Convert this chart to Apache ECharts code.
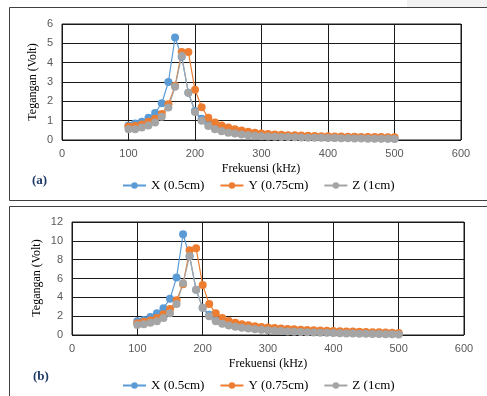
<!DOCTYPE html>
<html><head><meta charset="utf-8">
<script src="https://cdn.jsdelivr.net/npm/echarts@6/dist/echarts.min.js"></script>
<style>html,body{margin:0;padding:0;background:#fff}#c{width:487px;height:396px}</style>
</head><body><div id="c"></div>
<script>
var freq = [100,110,120,130,140,150,160,170,180,190,200,210,220,230,240,250,260,270,280,290,300,310,320,330,340,350,360,370,380,390,400,410,420,430,440,450,460,470,480,490,500];
var seriesNames = ['X (0.5cm)', 'Y (0.75cm)', 'Z (1cm)'];
var xTicks = [0,100,200,300,400,500,600];
var yTicksA = [0,1,2,3,4,5,6];
var yTicksB = [0,2,4,6,8,10,12];
// Panel (a)
var aX = [0.75,0.85,0.95,1.15,1.4,1.9,3.0,5.3,4.3,2.45,1.5,1.1,0.85,0.65,0.55,0.48,0.42,0.37,0.33,0.3,0.27,0.25,0.23,0.21,0.19,0.18,0.17,0.16,0.15,0.14,0.13,0.12,0.12,0.11,0.11,0.1,0.1,0.09,0.09,0.08,0.08];
var aY = [0.7,0.72,0.8,0.95,1.1,1.35,1.85,2.8,4.55,4.55,2.6,1.7,1.15,0.9,0.75,0.65,0.56,0.49,0.43,0.38,0.34,0.31,0.29,0.27,0.25,0.24,0.23,0.22,0.21,0.2,0.19,0.18,0.18,0.17,0.17,0.16,0.16,0.15,0.15,0.14,0.14];
var aZ = [0.55,0.55,0.65,0.75,0.9,1.2,1.68,2.75,4.35,2.45,1.45,1.0,0.72,0.55,0.45,0.38,0.33,0.29,0.25,0.22,0.2,0.18,0.17,0.16,0.15,0.14,0.13,0.12,0.12,0.11,0.1,0.1,0.09,0.09,0.08,0.08,0.07,0.07,0.06,0.06,0.05];
// Panel (b)
var bX = [1.45,1.6,1.9,2.3,2.85,3.85,6.1,10.7,8.35,4.8,2.9,2.15,1.6,1.3,1.1,0.95,0.85,0.75,0.68,0.62,0.56,0.52,0.48,0.44,0.41,0.38,0.35,0.33,0.31,0.29,0.27,0.25,0.24,0.22,0.21,0.2,0.18,0.17,0.16,0.15,0.14];
var bY = [1.25,1.4,1.55,1.8,2.2,2.75,3.7,5.4,9.0,9.2,5.3,3.3,2.3,1.8,1.5,1.3,1.15,1.03,0.93,0.85,0.8,0.74,0.69,0.64,0.6,0.56,0.53,0.5,0.47,0.44,0.42,0.4,0.38,0.36,0.34,0.32,0.3,0.28,0.26,0.24,0.22];
var bZ = [1.05,1.15,1.3,1.45,1.8,2.3,3.3,5.5,8.4,4.8,2.9,2.0,1.45,1.2,1.0,0.88,0.78,0.7,0.62,0.56,0.5,0.46,0.42,0.38,0.35,0.32,0.3,0.27,0.25,0.23,0.2,0.18,0.17,0.15,0.14,0.12,0.11,0.1,0.08,0.07,0.05];

var colors = ['#5B9BD5','#ED7D31','#A5A5A5'];
function pairs(vals){ return freq.map(function(f,i){ return [f, vals[i]]; }); }
var serif = '"Liberation Serif","DejaVu Serif",serif';
var sans = '"Liberation Sans","DejaVu Sans",sans-serif';

function xAxis(gi){
  return {type:'value', gridIndex:gi, min:xTicks[0], max:xTicks[xTicks.length-1], interval:100,
    axisLine:{show:false}, axisTick:{show:false},
    axisLabel:{color:'#595959', fontFamily:sans, fontSize:11, margin:8},
    splitLine:{show:true, lineStyle:{color:'#1a1a1a', width:1}}};
}
function yAxis(gi, ticks){
  return {type:'value', gridIndex:gi, min:ticks[0], max:ticks[ticks.length-1], interval:ticks[1]-ticks[0],
    axisLine:{show:false}, axisTick:{show:false},
    axisLabel:{color:'#595959', fontFamily:sans, fontSize:11, margin:9},
    splitLine:{show:true, lineStyle:{color:'#1a1a1a', width:1}}};
}
function ser(name, vals, ci, gi){
  return {name:name, type:'line', xAxisIndex:gi, yAxisIndex:gi, data:pairs(vals),
    symbol:'circle', symbolSize:8, itemStyle:{color:colors[ci]},
    lineStyle:{color:colors[ci], width:1.2}, emphasis:{disabled:true}, animation:false};
}
function legend(top){
  return {left:117, top:top, data:seriesNames, itemWidth:23, itemHeight:8, itemGap:15,
    textStyle:{fontFamily:serif, fontSize:13, color:'#000'}};
}

var chart = echarts.init(document.getElementById('c'), null, {renderer:'canvas'});
chart.setOption({
  animation:false,
  backgroundColor:'#fff',
  grid:[
    {left:62, top:24, width:399, height:116, show:true, borderColor:'#1a1a1a', borderWidth:1},
    {left:72, top:222, width:392, height:113, show:true, borderColor:'#1a1a1a', borderWidth:1}
  ],
  xAxis:[xAxis(0), xAxis(1)],
  yAxis:[yAxis(0, yTicksA), yAxis(1, yTicksB)],
  legend:[legend(174), legend(374)],
  series:[
    ser(seriesNames[0], aX, 0, 0), ser(seriesNames[1], aY, 1, 0), ser(seriesNames[2], aZ, 2, 0),
    ser(seriesNames[0], bX, 0, 1), ser(seriesNames[1], bY, 1, 1), ser(seriesNames[2], bZ, 2, 1)
  ],
  graphic:[
    {type:'rect', shape:{x:407, y:0, width:80, height:7}, style:{fill:'#f2f2f2'}, silent:true, z:-1},
    {type:'rect', shape:{x:9.5, y:7.5, width:490, height:193}, style:{fill:null, stroke:'#404040', lineWidth:1}, silent:true},
    {type:'rect', shape:{x:9.5, y:206.5, width:490, height:200}, style:{fill:null, stroke:'#404040', lineWidth:1}, silent:true},
    {type:'text', x:33, y:82, rotation:Math.PI/2, style:{text:'Tegangan (Volt)', fontFamily:serif, fontSize:12, fill:'#000', align:'center', verticalAlign:'middle'}},
    {type:'text', x:37, y:278, rotation:Math.PI/2, style:{text:'Tegangan (Volt)', fontFamily:serif, fontSize:12, fill:'#000', align:'center', verticalAlign:'middle'}},
    {type:'text', x:261, y:169, style:{text:'Frekuensi (kHz)', fontFamily:serif, fontSize:12, fill:'#000', align:'center', verticalAlign:'middle'}},
    {type:'text', x:268, y:364, style:{text:'Frekuensi (kHz)', fontFamily:serif, fontSize:12, fill:'#000', align:'center', verticalAlign:'middle'}},
    {type:'text', x:32, y:181, style:{text:'(a)', fontFamily:serif, fontSize:13, fontWeight:'bold', fill:'#1F3864', align:'left', verticalAlign:'middle'}},
    {type:'text', x:33, y:377, style:{text:'(b)', fontFamily:serif, fontSize:13, fontWeight:'bold', fill:'#1F3864', align:'left', verticalAlign:'middle'}}
  ]
});
</script></body></html>
